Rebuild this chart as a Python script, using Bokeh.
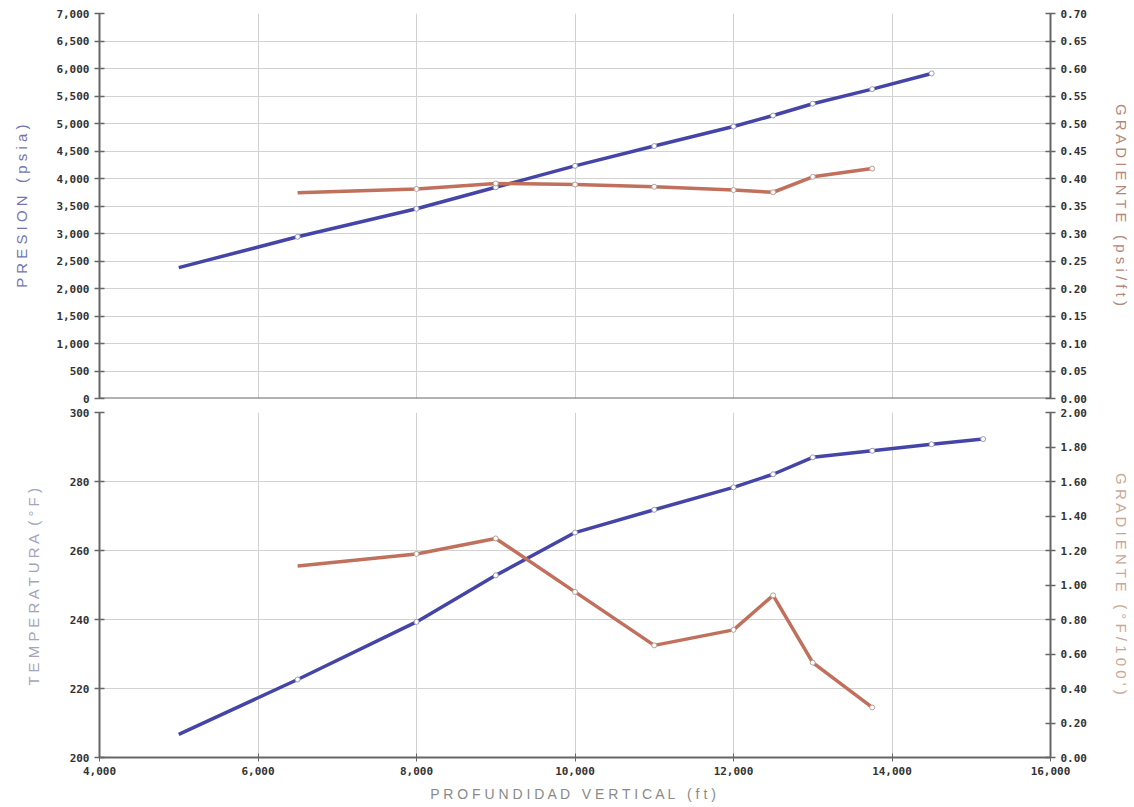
from bokeh.plotting import figure
from bokeh.layouts import column
from bokeh.models import (Range1d, LinearAxis, FixedTicker,
                          NumeralTickFormatter, Grid, Span)
from bokeh.embed import file_html
from bokeh.resources import INLINE

# ---- data ----
depth_p = [5000, 6500, 8000, 9000, 10000, 11000, 12000, 12500, 13000, 13750, 14500]
pressure = [2380, 2940, 3450, 3840, 4230, 4590, 4945, 5145, 5360, 5625, 5910]
depth_gp = [6500, 8000, 9000, 10000, 11000, 12000, 12500, 13000, 13750]
grad_p = [0.374, 0.381, 0.391, 0.389, 0.385, 0.379, 0.375, 0.403, 0.418]

depth_t = [5000, 6500, 8000, 9000, 10000, 11000, 12000, 12500, 13000, 13750, 14500, 15150]
temperature = [206.7, 222.6, 239.3, 252.8, 265.2, 271.8, 278.3, 282.1, 287.0, 288.9, 290.8, 292.3]
depth_gt = [6500, 8000, 9000, 10000, 11000, 12000, 12500, 13000, 13750]
grad_t = [1.11, 1.18, 1.27, 0.96, 0.65, 0.74, 0.94, 0.55, 0.29]

x_ticks = [4000, 6000, 8000, 10000, 12000, 14000, 16000]
p_ticks = [0, 500, 1000, 1500, 2000, 2500, 3000, 3500, 4000, 4500, 5000, 5500, 6000, 6500, 7000]
gp_ticks = [0.0, 0.05, 0.10, 0.15, 0.20, 0.25, 0.30, 0.35, 0.40, 0.45, 0.50, 0.55, 0.60, 0.65, 0.70]
t_ticks = [200, 220, 240, 260, 280, 300]
gt_ticks = [0.0, 0.2, 0.4, 0.6, 0.8, 1.0, 1.2, 1.4, 1.6, 1.8, 2.0]

NB = "\u00a0"
x_title = "P R O F U N D I D A D" + NB * 3 + "V E R T I C A L" + NB * 3 + "( f t )"
top_left_title = "P R E S I O N" + NB * 3 + "( p s i a )"
top_right_title = "G R A D I E N T E" + NB * 3 + "( p s i / f t )"
bot_left_title = "T E M P E R A T U R A" + NB * 2 + "( ° F )"
bot_right_title = "G R A D I E N T E" + NB * 3 + "( ° F / 1 0 0 ' )"

BLUE = "#4545a8"
RED = "#c0705c"
TICK_FONT = "DejaVu Sans Mono"
AX = "#666666"
GRID = "#d2d2d2"


def style_axis(ax, fmt, ticks, title, title_color, standoff):
    ax.ticker = FixedTicker(ticks=ticks)
    ax.formatter = NumeralTickFormatter(format=fmt)
    ax.axis_line_color = AX
    ax.axis_line_width = 2
    ax.major_tick_line_color = AX
    ax.major_tick_line_width = 1.5
    ax.major_tick_in = 5
    ax.major_tick_out = 5
    ax.minor_tick_line_color = None
    ax.major_label_text_font = TICK_FONT
    ax.major_label_text_font_style = "bold"
    ax.major_label_text_font_size = "11px"
    ax.major_label_text_color = "#333333"
    ax.axis_label = title
    ax.axis_label_text_font = "Liberation Sans"
    ax.axis_label_text_font_style = "normal"
    ax.axis_label_text_font_size = "15px"
    ax.axis_label_text_color = title_color
    ax.axis_label_standoff = standoff


def make_fig(ymin, ymax, gmax, frame_h, top, bottom, xloc):
    p = figure(output_backend="svg", toolbar_location=None,
               frame_width=951, frame_height=frame_h,
               min_border_left=99, min_border_right=80,
               min_border_top=top, min_border_bottom=bottom,
               x_range=Range1d(4000, 16000), y_range=Range1d(ymin, ymax),
               x_axis_location=xloc,
               background_fill_color="white", border_fill_color="white")
    p.outline_line_color = None
    p.extra_y_ranges = {"grad": Range1d(0, gmax)}
    p.ygrid.grid_line_color = GRID
    p.ygrid.grid_line_width = 1
    return p


# ---- top: pressure ----
p1 = make_fig(0, 7000, 0.70, 385, 13, 7, None)
style_axis(p1.yaxis[0], "0,0", p_ticks, top_left_title, "#7474b4", 23)
r1 = LinearAxis(y_range_name="grad")
p1.add_layout(r1, "right")
style_axis(r1, "0.00", gp_ticks, top_right_title, "#b4887a", 23)
p1.add_layout(Grid(dimension=0, ticker=FixedTicker(ticks=x_ticks),
                   grid_line_color=GRID, grid_line_width=1))
p1.add_layout(Span(location=0, dimension="width", line_color=AX, line_width=2))

p1.line(depth_p, pressure, line_color=BLUE, line_width=3.5)
p1.scatter(depth_p[1:], pressure[1:], size=5, fill_color="white", line_color="#9a9ab8")
p1.line(depth_gp, grad_p, line_color=RED, line_width=3.5, y_range_name="grad")
p1.scatter(depth_gp[1:], grad_p[1:], size=5, fill_color="white", line_color="#b8a09a",
           y_range_name="grad")

# ---- bottom: temperature ----
p2 = make_fig(200, 300, 2.0, 345, 7, 42, "below")
style_axis(p2.yaxis[0], "0", t_ticks, bot_left_title, "#a4a4bc", 25)
r2 = LinearAxis(y_range_name="grad")
p2.add_layout(r2, "right")
style_axis(r2, "0.00", gt_ticks, bot_right_title, "#c8a898", 23)
p2.xgrid.grid_line_color = GRID
p2.xgrid.grid_line_width = 1
xb = p2.xaxis[0]
xb.ticker = FixedTicker(ticks=x_ticks)
xb.formatter = NumeralTickFormatter(format="0,0")
xb.axis_line_color = AX
xb.axis_line_width = 2
xb.major_tick_line_color = AX
xb.major_tick_in = 4
xb.major_tick_out = 4
xb.minor_tick_line_color = None
xb.major_label_text_font = TICK_FONT
xb.major_label_text_font_style = "bold"
xb.major_label_text_font_size = "11px"
xb.major_label_text_color = "#333333"
xb.major_label_standoff = 5
xb.axis_label = x_title
xb.axis_label_text_font = "Liberation Sans"
xb.axis_label_text_font_style = "normal"
xb.axis_label_text_font_size = "14px"
xb.axis_label_text_color = "#8a8a8a"
xb.axis_label_standoff = 8

p2.line(depth_t, temperature, line_color=BLUE, line_width=3.5)
p2.scatter(depth_t[1:], temperature[1:], size=5, fill_color="white", line_color="#9a9ab8")
p2.line(depth_gt, grad_t, line_color=RED, line_width=3.5, y_range_name="grad")
p2.scatter(depth_gt[1:], grad_t[1:], size=5, fill_color="white", line_color="#b8a09a",
           y_range_name="grad")

layout = column(p1, p2, spacing=0)
open("out.html", "w").write(file_html(layout, INLINE))
